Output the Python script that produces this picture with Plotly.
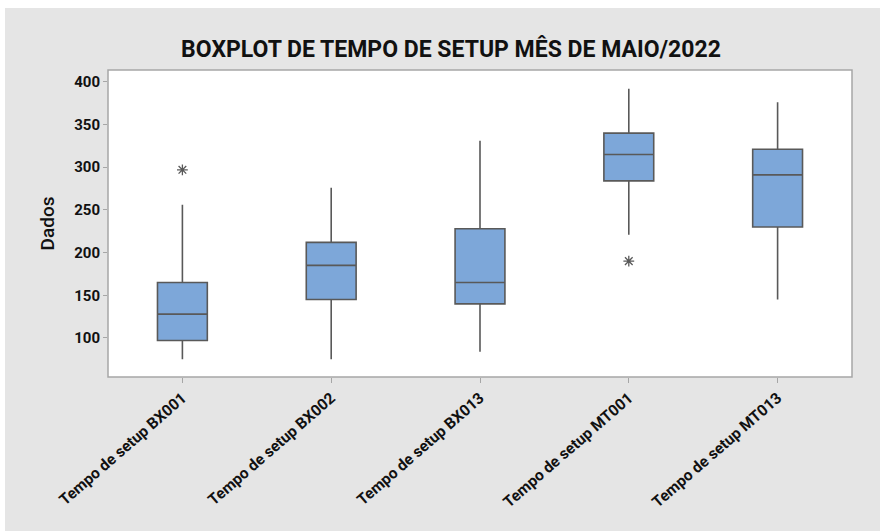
import plotly.graph_objects as go

# Summary statistics per setup group (minutes)
categories = ["Tempo de setup BX001", "Tempo de setup BX002", "Tempo de setup BX013",
              "Tempo de setup MT001", "Tempo de setup MT013"]
lower_whisker = [75, 75, 84, 221, 145]
q1_values = [97, 145, 140, 284, 230]
medians = [128, 185, 165, 315, 291]
q3_values = [165, 212, 228, 340, 321]
upper_whisker = [256, 276, 331, 392, 376]

outlier_groups = ["Tempo de setup BX001", "Tempo de setup MT001"]
outlier_values = [297, 190]

y_ticks = [100, 150, 200, 250, 300, 350, 400]

BOX_FILL = "#7DA7D9"
LINE = "#595959"
PANEL = "#E5E5E5"

W, H = 880, 531
ML, MR, MT, MB = 108, 28, 70, 154
PW, PH = W - ML - MR, H - MT - MB

fig = go.Figure()

fig.add_trace(go.Box(
    x=categories,
    q1=q1_values,
    median=medians,
    q3=q3_values,
    lowerfence=lower_whisker,
    upperfence=upper_whisker,
    fillcolor=BOX_FILL,
    line=dict(color=LINE, width=1.6),
    whiskerwidth=0,
    width=0.335,
    boxpoints=False,
    hoverinfo="skip",
    showlegend=False,
))

fig.add_trace(go.Scatter(
    x=outlier_groups,
    y=outlier_values,
    mode="markers",
    marker=dict(symbol="asterisk-open", size=9, color=LINE,
                line=dict(color=LINE, width=1.3)),
    showlegend=False,
    hoverinfo="skip",
))


def px_x(p):
    return (p - ML) / PW


def px_y(p):
    return (H - MB - p) / PH


shapes = [
    # grey panel behind the whole chart, leaving a thin white edge
    dict(type="rect", xref="paper", yref="paper",
         x0=px_x(5), x1=px_x(W + 2), y0=px_y(H + 2), y1=px_y(8),
         fillcolor=PANEL, line=dict(width=0), layer="below"),
    # white plotting area with grey frame
    dict(type="rect", xref="paper", yref="paper",
         x0=0, x1=1, y0=0, y1=1,
         fillcolor="white", line=dict(color="#A6A6A6", width=1.5), layer="below"),
]

fig.update_layout(
    width=W, height=H,
    margin=dict(l=ML, r=MR, t=MT, b=MB, pad=0),
    paper_bgcolor="white",
    plot_bgcolor="rgba(0,0,0,0)",
    shapes=shapes,
    title=dict(
        text="BOXPLOT DE TEMPO DE SETUP MÊS DE MAIO/2022",
        x=451 / W, xref="container", xanchor="center",
        y=1 - 48.5 / H, yref="container", yanchor="middle",
        font=dict(family="Roboto", size=23, color="#111111", weight="bold"),
    ),
    font=dict(family="Roboto", color="#111111"),
    xaxis=dict(
        type="category",
        categoryorder="array", categoryarray=categories,
        range=[-0.5, 4.5],
        tickangle=-41,
        tickfont=dict(size=15.5, color="#111111", weight="bold"),
        ticks="outside", ticklen=5, tickcolor="#A6A6A6", tickwidth=1,
        showgrid=False, zeroline=False, showline=False,
    ),
    yaxis=dict(
        range=[54.3, 413.9],
        tickmode="array", tickvals=y_ticks,
        tickfont=dict(size=15, color="#111111", weight="bold"),
        ticks="outside", ticklen=4, tickcolor="#A6A6A6", tickwidth=1,
        showgrid=False, zeroline=False, showline=False,
        title=dict(text="Dados", font=dict(size=19, color="#111111", weight=500),
                   standoff=14),
    ),
)

fig.write_html("out.html")
